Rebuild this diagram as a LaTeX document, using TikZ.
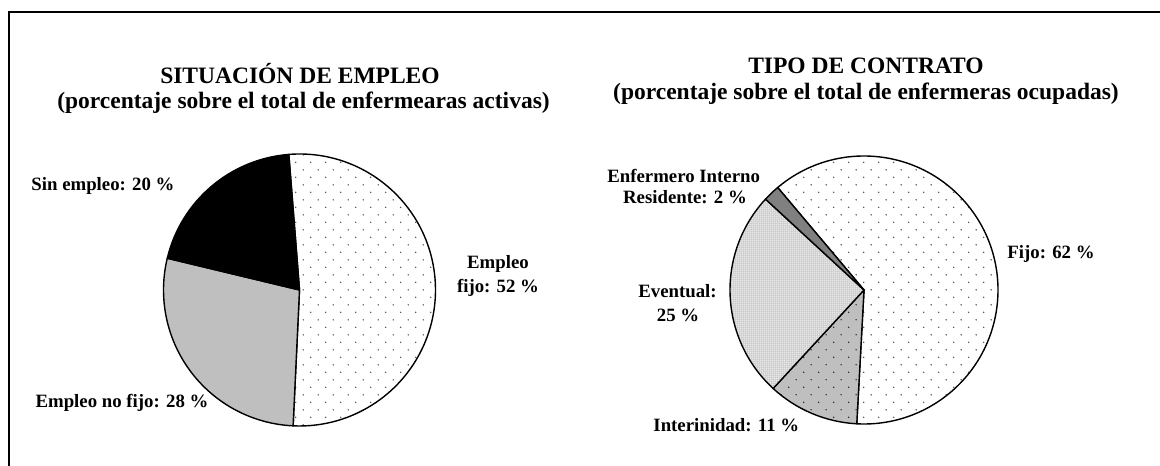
\documentclass[tikz,border=0pt]{standalone}
\usepackage{fontspec}
\setmainfont{Liberation Serif}
\usetikzlibrary{patterns}
\pgfdeclarepatternformonly{sparsedots}{\pgfpoint{0pt}{0pt}}{\pgfpoint{15.4pt}{15.4pt}}{\pgfpoint{15.4pt}{15.4pt}}{%
  \pgfpathcircle{\pgfpoint{3.85pt}{3.85pt}}{0.8pt}%
  \pgfpathcircle{\pgfpoint{11.55pt}{11.55pt}}{0.8pt}%
  \pgfusepath{fill}}
\pgfdeclarepatternformonly{finedots}{\pgfpoint{0pt}{0pt}}{\pgfpoint{2.4pt}{2.4pt}}{\pgfpoint{2.4pt}{2.4pt}}{%
  \pgfpathcircle{\pgfpoint{1.2pt}{1.2pt}}{0.66pt}\pgfusepath{fill}}
\newcommand\pieslice[7]{\path[#7] (#1,#2) -- ++(#5:#3pt and #4pt) arc[start angle=#5, end angle=#6, x radius=#3pt, y radius=#4pt] -- cycle;}
\begin{document}
\begin{tikzpicture}[x=1pt,y=1pt,
  lab/.style={font=\fontsize{18.8}{22}\selectfont\bfseries, inner sep=0pt, anchor=base},
  ttl/.style={font=\fontsize{23.5}{28}\selectfont\bfseries, inner sep=0pt, anchor=base},
  sl/.style={draw=black, line width=1.4pt, line join=round},
  fijo/.style={sl, preaction={fill=white}, pattern=sparsedots, pattern color=black!70},
  nofijo/.style={sl, fill=black!25},
  sinem/.style={sl, fill=black},
  eir/.style={sl, fill=black!50},
  event/.style={sl, preaction={fill=black!3}, pattern=finedots, pattern color=black!75},
  inter/.style={sl, preaction={fill=black!25}, pattern=sparsedots, pattern color=black!85}]
\useasboundingbox (0,0) rectangle (1160,466);
\fill[white] (0,0) rectangle (1160,466);
% frame
\coordinate (fr) at (1165,454);
\coordinate (fc) at (9,454);
\coordinate (fb) at (9,-5);
\draw[line width=2.2pt] (fr) -- (fc) -- (fb);
% left pie
\pieslice{299.5}{176}{136}{136}{94.5}{-92.7}{fijo}
\pieslice{299.5}{176}{136}{136}{-92.7}{-193.5}{nofijo}
\pieslice{299.5}{176}{136}{136}{-193.5}{-265.5}{sinem}
% right pie
\pieslice{864}{176}{134}{134}{130.1}{-93.1}{fijo}
\pieslice{864}{176}{134}{134}{-93.1}{-132.7}{inter}
\pieslice{864}{176}{134}{134}{-132.7}{-222.7}{event}
\pieslice{864}{176}{134}{134}{-222.7}{-229.9}{eir}
% titles
\node[ttl] (t1) at (300,382) {SITUACIÓN DE EMPLEO};
\node[ttl] (s1) at (303.5,357.5) {(porcentaje sobre el total de enfermearas activas)};
\node[ttl] (t2) at (866,392) {TIPO DE CONTRATO};
\node[ttl] (s2) at (866,366) {(porcentaje sobre el total de enfermeras ocupadas)};
% labels left
\node[lab] (l1) at (103,275.3) {Sin empleo: 20 \%};
\node[lab] (l2a) at (498,197.7) {Empleo};
\node[lab] (l2b) at (498,173.7) {fijo: 52 \%};
\node[lab] (l3) at (122,58) {Empleo no fijo: 28 \%};
% labels right
\node[lab] (r1a) at (683.7,283.3) {Enfermero Interno};
\node[lab] (r1b) at (685,262) {Residente: 2 \%};
\node[lab] (r2) at (1051,207) {Fijo: 62 \%};
\node[lab] (r3a) at (677.5,168.7) {Eventual:};
\node[lab] (r3b) at (678,144.3) {25 \%};
\node[lab] (r4) at (726.3,34.3) {Interinidad: 11 \%};
\end{tikzpicture}
\end{document}
